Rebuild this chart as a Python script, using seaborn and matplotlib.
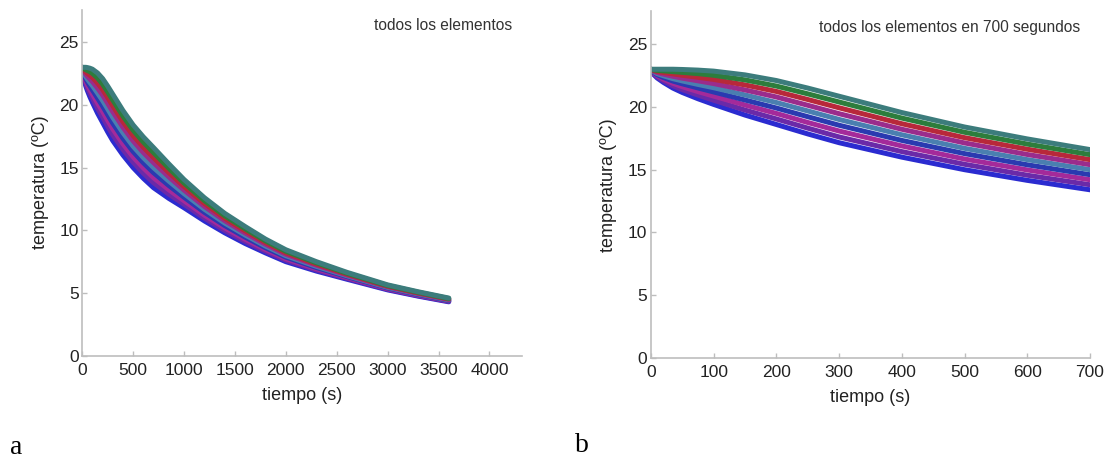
import numpy as np
import pandas as pd
import matplotlib
matplotlib.use("Agg")
import matplotlib.pyplot as plt
import seaborn as sns

# time points (s)
tiempo = [0, 5, 10, 20, 35, 50, 75, 100, 150, 200, 250, 300, 400, 500, 600,
          700, 850, 1000, 1200, 1400, 1600, 1800, 2000, 2300, 2600, 3000,
          3300, 3600]

# temperature curves (ºC), from fastest-cooling (bottom) to slowest (top)
elem_1 = [23.0, 22.55, 22.30, 21.95, 21.50, 21.15, 20.65, 20.20, 19.35, 18.60, 17.85, 17.15, 16.00, 15.00, 14.15, 13.40, 12.55, 11.80, 10.75, 9.80, 8.95, 8.20, 7.50, 6.75, 6.10, 5.25, 4.75, 4.30]
elem_2 = [23.0, 22.61, 22.39, 22.08, 21.69, 21.38, 20.94, 20.53, 19.75, 19.04, 18.31, 17.61, 16.44, 15.43, 14.56, 13.80, 12.89, 12.08, 10.98, 9.99, 9.12, 8.34, 7.62, 6.84, 6.17, 5.30, 4.79, 4.34]
elem_3 = [23.0, 22.66, 22.48, 22.21, 21.88, 21.61, 21.22, 20.86, 20.15, 19.48, 18.76, 18.08, 16.89, 15.85, 14.98, 14.20, 13.24, 12.36, 11.21, 10.19, 9.29, 8.48, 7.74, 6.94, 6.24, 5.35, 4.84, 4.38]
elem_4 = [23.0, 22.72, 22.56, 22.34, 22.06, 21.84, 21.51, 21.19, 20.55, 19.91, 19.22, 18.54, 17.33, 16.28, 15.39, 14.60, 13.58, 12.64, 11.44, 10.38, 9.46, 8.61, 7.86, 7.03, 6.31, 5.40, 4.88, 4.41]
elem_5 = [23.0, 22.78, 22.65, 22.48, 22.25, 22.07, 21.79, 21.53, 20.95, 20.35, 19.68, 19.00, 17.78, 16.70, 15.80, 15.00, 13.93, 12.93, 11.68, 10.58, 9.63, 8.75, 7.98, 7.13, 6.38, 5.45, 4.93, 4.45]
elem_6 = [23.0, 22.83, 22.74, 22.61, 22.44, 22.29, 22.08, 21.86, 21.35, 20.79, 20.13, 19.46, 18.22, 17.13, 16.21, 15.40, 14.27, 13.21, 11.91, 10.77, 9.79, 8.89, 8.09, 7.22, 6.44, 5.50, 4.97, 4.49]
elem_7 = [23.0, 22.89, 22.83, 22.74, 22.63, 22.52, 22.36, 22.19, 21.75, 21.23, 20.59, 19.93, 18.66, 17.55, 16.63, 15.80, 14.61, 13.49, 12.14, 10.96, 9.96, 9.03, 8.21, 7.31, 6.51, 5.55, 5.01, 4.53]
elem_8 = [23.0, 22.94, 22.91, 22.87, 22.81, 22.75, 22.65, 22.52, 22.15, 21.66, 21.04, 20.39, 19.11, 17.98, 17.04, 16.20, 14.96, 13.77, 12.37, 11.16, 10.13, 9.16, 8.33, 7.41, 6.58, 5.60, 5.06, 4.56]
elem_9 = [23.0, 23.00, 23.00, 23.00, 23.00, 22.98, 22.93, 22.85, 22.55, 22.10, 21.50, 20.85, 19.55, 18.40, 17.45, 16.60, 15.30, 14.05, 12.60, 11.35, 10.30, 9.30, 8.45, 7.50, 6.65, 5.65, 5.10, 4.60]

elementos = [elem_1, elem_2, elem_3, elem_4, elem_5, elem_6, elem_7, elem_8, elem_9]
nombres = [f"e{i+1}" for i in range(len(elementos))]
colores = ["#2b2bd0", "#6a2aa8", "#a42a9a", "#2a3ab0", "#4a7fb0",
           "#9a2c8c", "#b8283a", "#2d7d3c", "#3c7c7c"]

xticks_a = [0, 500, 1000, 1500, 2000, 2500, 3000, 3500, 4000]
xticks_b = [0, 100, 200, 300, 400, 500, 600, 700]
yticks = [0, 5, 10, 15, 20, 25]

rows = []
for n, vals in zip(nombres, elementos):
    for t, v in zip(tiempo, vals):
        rows.append({"tiempo": t, "temperatura": v, "elemento": n})
df = pd.DataFrame(rows)

sns.set_theme(style="white")
plt.rcParams["font.family"] = ["Liberation Sans", "DejaVu Sans"]

fig = plt.figure(figsize=(11.07, 4.59), dpi=100)
ax_a = fig.add_axes([0.0743, 0.225, 0.3973, 0.754])
ax_b = fig.add_axes([0.588, 0.220, 0.3966, 0.755])

spine_col = "#bdbdbd"
for ax, xmax, xt, txt, lblx in [
        (ax_a, 4320, xticks_a, "todos los elementos", -0.0757),
        (ax_b, 700, xticks_b, "todos los elementos en 700 segundos", -0.0775)]:
    sns.lineplot(data=df, x="tiempo", y="temperatura", hue="elemento",
                 hue_order=nombres, palette=colores, legend=False,
                 estimator=None, sort=False, linewidth=3.6, ax=ax)
    ax.set_xlim(0, xmax)
    ax.set_ylim(0, 27.6)
    ax.set_xticks(xt)
    ax.set_yticks(yticks)
    sns.despine(ax=ax)
    for s in ["left", "bottom"]:
        ax.spines[s].set_color(spine_col)
        ax.spines[s].set_linewidth(1.2)
    ax.tick_params(direction="in", length=3.5, width=1, color=spine_col,
                   labelsize=12.5, labelcolor="#222222",
                   left=True, bottom=True)
    ax.tick_params(axis="x", pad=5)
    ax.tick_params(axis="y", pad=2.5)
    ax.set_xlabel("tiempo (s)", fontsize=13, color="#222222")
    ax.set_ylabel("temperatura (ºC)", fontsize=13, color="#222222")
    ax.yaxis.set_label_coords(lblx, 0.5)
    ax.xaxis.set_label_coords(0.5, -0.09)
    ax.text(0.977, 0.953, txt, transform=ax.transAxes, ha="right",
            va="center", fontsize=11.2, color="#333333")

fig.text(10 / 1107, 1 - 447 / 459, "a", family="Liberation Serif",
         fontsize=20, ha="left", va="center", color="black")
fig.text(575 / 1107, 1 - 445 / 459, "b", family="Liberation Serif",
         fontsize=20, ha="left", va="center", color="black")

fig.savefig("out.png", dpi=100, facecolor="white")
